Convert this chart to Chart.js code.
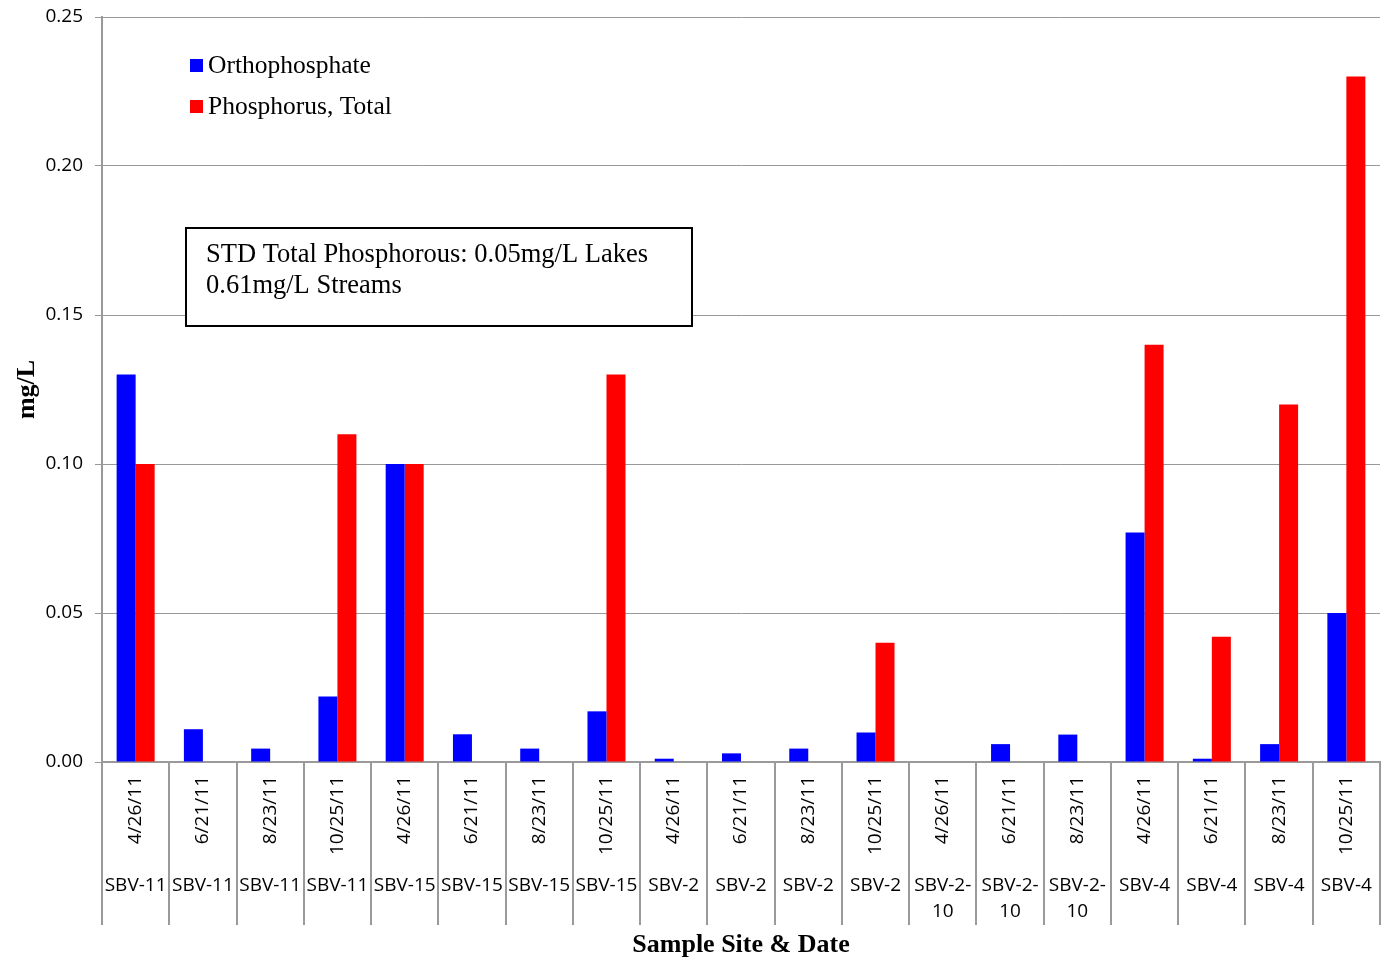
<!DOCTYPE html>
<html>
<head>
<meta charset="utf-8">
<script src="https://cdn.jsdelivr.net/npm/chart.js@4/dist/chart.umd.min.js"></script>
<style>
  body { margin: 0; background: #fff; }
  canvas { display: block; }
</style>
</head>
<body>
<canvas id="chart" width="1387" height="962"></canvas>
<script>
"use strict"

// Данные
const dates = ["4/26/11", "6/21/11", "8/23/11", "10/25/11", "4/26/11", "6/21/11", "8/23/11", "10/25/11",
  "4/26/11", "6/21/11", "8/23/11", "10/25/11", "4/26/11", "6/21/11", "8/23/11",
  "4/26/11", "6/21/11", "8/23/11", "10/25/11"]
const sites = ["SBV-11", "SBV-11", "SBV-11", "SBV-11", "SBV-15", "SBV-15", "SBV-15", "SBV-15",
  "SBV-2", "SBV-2", "SBV-2", "SBV-2", "SBV-2-10", "SBV-2-10", "SBV-2-10",
  "SBV-4", "SBV-4", "SBV-4", "SBV-4"]
const ortho = [0.13, 0.011, 0.0045, 0.022, 0.10, 0.0093, 0.0045, 0.017,
  0.0011, 0.0029, 0.0045, 0.0099, null, 0.006, 0.0092,
  0.077, 0.0011, 0.006, 0.05]
const totalP = [0.10, null, null, 0.11, 0.10, null, null, 0.13,
  null, null, null, 0.04, null, null, null,
  0.14, 0.042, 0.12, 0.23]
const yTicks = [0, 0.05, 0.10, 0.15, 0.20, 0.25]
const noteLines = ["STD Total Phosphorous: 0.05mg/L Lakes", "0.61mg/L Streams"]

const sansFont = "'Open Sans', sans-serif"
const serifFont = "'Liberation Serif', 'Times New Roman', serif"

// Подписи под осью, легенда и рамка с нормативом
const extras = {
  id: "extras",
  afterDraw(chart) {
    const ctx = chart.ctx
    const x = chart.scales.x
    ctx.save()
    ctx.fillStyle = "#000"

    ctx.font = `19px ${sansFont}`
    dates.forEach((d, i) => {
      const cx = x.getPixelForValue(i)
      ctx.save()
      ctx.translate(cx, 776)
      ctx.rotate(-Math.PI / 2)
      ctx.textAlign = "right"
      ctx.textBaseline = "middle"
      ctx.fillText(d, 0, 0)
      ctx.restore()
    })

    ctx.textAlign = "center"
    ctx.textBaseline = "middle"
    const cw = x.width / sites.length
    sites.forEach((s, i) => {
      const cx = x.getPixelForValue(i)
      let lines = [s]
      if (ctx.measureText(s).width > cw - 2) {
        const k = s.lastIndexOf("-") + 1
        lines = [s.slice(0, k), s.slice(k)]
      }
      lines.forEach((l, j) => ctx.fillText(l, cx, 886 + j * 26))
    })

    // легенда
    ctx.font = `25.5px ${serifFont}`
    ctx.textAlign = "left"
    chart.data.datasets.forEach((ds, i) => {
      const y = 66 + i * 41
      ctx.fillStyle = ds.backgroundColor
      ctx.fillRect(190, y - 7, 13, 13)
      ctx.fillStyle = "#000"
      ctx.fillText(ds.label, 208, y)
    })

    // рамка
    ctx.fillStyle = "#fff"
    ctx.fillRect(186, 228, 506, 98)
    ctx.strokeStyle = "#000"
    ctx.lineWidth = 2
    ctx.strokeRect(186, 228, 506, 98)
    ctx.fillStyle = "#000"
    ctx.font = `26.5px ${serifFont}`
    noteLines.forEach((l, j) => ctx.fillText(l, 206, 255 + j * 31))

    ctx.restore()
  }
}

new Chart(document.getElementById("chart"), {
  type: "bar",
  data: {
    labels: dates.map((d, i) => `${sites[i]} ${d}`),
    datasets: [{
      label: "Orthophosphate",
      data: ortho,
      backgroundColor: "#0000ff",
      categoryPercentage: 0.565,
      barPercentage: 1
    }, {
      label: "Phosphorus, Total",
      data: totalP,
      backgroundColor: "#ff0000",
      categoryPercentage: 0.565,
      barPercentage: 1
    }]
  },
  options: {
    responsive: false,
    animation: false,
    layout: { padding: { top: 17, right: 7, bottom: 0, left: 0 } },
    scales: {
      x: {
        ticks: { display: false },
        grid: {
          drawOnChartArea: false,
          drawTicks: true,
          tickLength: 163,
          color: "#9a9a9a",
          lineWidth: 2,
          offset: true
        },
        border: { color: "#9a9a9a", width: 2 },
        title: {
          display: true,
          text: "Sample Site & Date",
          color: "#000",
          font: { family: serifFont, size: 26, weight: "bold" },
          padding: { top: 0, bottom: 1 }
        },
        afterFit: scale => { scale.height = 200 }
      },
      y: {
        min: 0,
        max: 0.25,
        afterBuildTicks: scale => { scale.ticks = yTicks.map(v => ({ value: v })) },
        ticks: {
          padding: 12,
          color: "#000",
          font: { family: sansFont, size: 19 },
          callback: v => v.toFixed(2)
        },
        grid: { color: "#999", lineWidth: 1, tickLength: 7 },
        border: { color: "#999", width: 2 },
        title: {
          display: true,
          text: "mg/L",
          color: "#000",
          font: { family: serifFont, size: 26, weight: "bold" },
          padding: { top: 12, bottom: 0 }
        },
        afterFit: scale => {
          scale.width = 102
          scale.paddingTop = 0
          scale.paddingBottom = 0
        }
      }
    },
    plugins: {
      legend: { display: false },
      tooltip: { enabled: false }
    }
  },
  plugins: [extras]
})
</script>
</body>
</html>
